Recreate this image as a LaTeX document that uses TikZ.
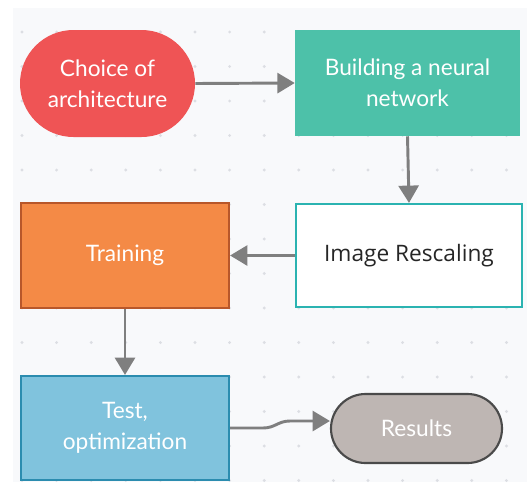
\documentclass[tikz,border=0pt]{standalone}
\usepackage{fontspec}
\setmainfont{Lato}
\newfontfamily\plainfont{Open Sans}
\usetikzlibrary{arrows.meta,shapes.misc}
\definecolor{canvas}{HTML}{F8F9FB}
\definecolor{griddot}{HTML}{DCDEE3}
\definecolor{redfill}{HTML}{EF5455}
\definecolor{tealfill}{HTML}{4DC1A9}
\definecolor{tealline}{HTML}{2BB3B1}
\definecolor{orangefill}{HTML}{F48A46}
\definecolor{orangeline}{HTML}{B8572A}
\definecolor{bluefill}{HTML}{80C3DD}
\definecolor{blueline}{HTML}{2B8CAF}
\definecolor{greyfill}{HTML}{BEB6B3}
\definecolor{greyline}{HTML}{4A4A4A}
\definecolor{linkgrey}{HTML}{7F7F7F}
\tikzset{
  boxtext/.style={font=\fontsize{17}{23.5}\selectfont, align=center, text=white, inner sep=0pt},
  link/.style={draw=linkgrey, line width=2.2pt, -{Triangle[length=13pt,width=15pt]}},
}
\begin{document}
\begin{tikzpicture}[x=0.75pt,y=-0.75pt]
  \useasboundingbox (0,0) rectangle (527,482);
  % canvas and dot grid
  \fill[canvas] (13,8) rectangle (527,482);
  \foreach \i in {0,...,14} {
    \foreach \j in {0,...,13} {
      \fill[griddot] ({22+34.6*\i},{32+34.5*\j}) circle (1.6);
    }
  }
  % nodes
  \node[boxtext, rounded rectangle, fill=redfill, minimum width=175*0.75pt, minimum height=107*0.75pt]
    (choice) at (107.5,83.5) {Choice of\\architecture};
  \node[boxtext, rectangle, fill=tealfill, minimum width=225*0.75pt, minimum height=106*0.75pt]
    (build) at (407.5,83) {Building a neural\\network};
  \node[boxtext, rectangle, fill=white, draw=tealline, line width=1.6pt, text=black!85,
        minimum width=226*0.75pt, minimum height=103*0.75pt, font=\plainfont\fontsize{17}{22}\selectfont]
    (rescale) at (409,255.5) {Image Rescaling};
  \node[boxtext, rectangle, fill=orangefill, draw=orangeline, line width=1.6pt,
        minimum width=208*0.75pt, minimum height=105*0.75pt]
    (train) at (125,255.5) {Training};
  \node[boxtext, rectangle, fill=bluefill, draw=blueline, line width=1.6pt,
        minimum width=208*0.75pt, minimum height=104*0.75pt]
    (test) at (125,428) {Test,\\optimization};
  \node[boxtext, rounded rectangle, fill=greyfill, draw=greyline, line width=1.6pt,
        minimum width=171*0.75pt, minimum height=69*0.75pt]
    (results) at (416.5,428.5) {Results};
  % connectors
  \draw[link] (choice.east) -- (build.west);
  \draw[link] (build.south) -- (rescale.north);
  \draw[link] (rescale.west) -- (train.east);
  \draw[link] (train.south) -- (test.north);
  \draw[link] (test.east) -- ++(33,0) .. controls ++(12,0) and ++(-12,0) .. (290,421) -- (results.west |- 0,421);
\end{tikzpicture}
\end{document}
